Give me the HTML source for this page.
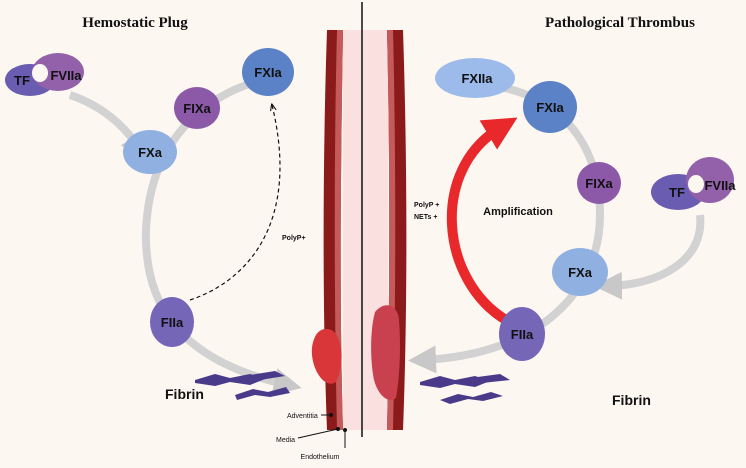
<!DOCTYPE html>
<html><head><meta charset="utf-8"><style>
html,body{margin:0;padding:0;background:#fdf7f1;}
svg{display:block;}
text{font-family:"Liberation Sans",sans-serif;font-weight:bold;fill:#111;}
text.n{font-weight:normal;}
.t{font-family:"Liberation Serif",serif;font-size:15px;}
.p{font-size:13px;text-anchor:middle;}
</style></head><body>
<svg width="746" height="468" viewBox="0 0 746 468" xmlns="http://www.w3.org/2000/svg">
<defs>
<marker id="ag" viewBox="0 0 10 10" refX="5" refY="5" markerWidth="3.5" markerHeight="3.5" orient="auto"><path d="M0,0L10,5L0,10z" fill="#c8c8c8"/></marker>
<marker id="ak" viewBox="0 0 10 10" refX="8" refY="5" markerWidth="6" markerHeight="6" orient="auto"><path d="M0,1L10,5L0,9" fill="none" stroke="#111" stroke-width="1.5"/></marker>
<marker id="ar" viewBox="0 0 10 10" refX="4" refY="5" markerWidth="3.4" markerHeight="3.4" orient="auto"><path d="M0,0L10,5L0,10z" fill="#e8282b"/></marker>
</defs>
<rect width="746" height="468" fill="#fdf7f1"/>
<text x="135" y="27" class="t" text-anchor="middle">Hemostatic Plug</text>
<text x="620" y="27" class="t" text-anchor="middle">Pathological Thrombus</text>

<!-- vessels -->
<rect x="343" y="30" width="19" height="400" fill="#fbe0e0"/>
<rect x="362" y="30" width="26" height="400" fill="#fbe0e0"/>
<path d="M327,30 L343,30 C341,150 339,300 343,430 L327,430 C322,300 323,150 327,30z" fill="#8b1a1a"/>
<path d="M337,30 L343,30 C341,150 339,300 343,430 L337,430 C334,300 334,150 337,30z" fill="#c45a5a"/>
<path d="M387,30 L403,30 C407,150 408,300 403,430 L387,430 C390,300 390,150 387,30z" fill="#8b1a1a"/>
<path d="M387,30 L393,30 C396,150 396,300 393,430 L387,430 C390,300 390,150 387,30z" fill="#c45a5a"/>
<line x1="362" y1="2" x2="362" y2="437" stroke="#111" stroke-width="1.5"/>
<!-- clots -->
<path d="M316,335 C322,325 335,328 338,338 C344,350 342,370 336,382 C328,388 318,378 314,365 C310,352 312,342 316,335z" fill="#d9363a"/>
<path d="M375,312 C385,300 398,305 399,320 C401,345 400,375 396,398 C388,404 378,395 374,380 C370,360 370,330 375,312z" fill="#c9414f"/>

<!-- left arcs -->
<path d="M262,80 C205,95 150,140 146,230 C144,300 175,360 288,385" fill="none" stroke="#d2d2d2" stroke-width="8" marker-end="url(#ag)"/>
<path d="M70,95 C100,105 125,125 140,150" fill="none" stroke="#d2d2d2" stroke-width="8" marker-end="url(#ag)"/>
<path d="M190,300 C250,280 300,220 272,105" fill="none" stroke="#111" stroke-width="1.2" stroke-dasharray="4,3" marker-end="url(#ak)"/>
<text x="282" y="240" font-size="7">PolyP+</text>

<!-- right arcs -->
<path d="M485,85 C545,90 600,130 600,215 C600,290 540,355 422,360" fill="none" stroke="#d2d2d2" stroke-width="8" marker-end="url(#ag)"/>
<path d="M700,215 C705,260 660,285 608,286" fill="none" stroke="#d2d2d2" stroke-width="8" marker-end="url(#ag)"/>
<path d="M506,320 C440,280 430,170 500,128" fill="none" stroke="#e8282b" stroke-width="10" marker-end="url(#ar)"/>
<text x="518" y="215" font-size="11" text-anchor="middle">Amplification</text>
<text x="414" y="207" font-size="7">PolyP +</text>
<text x="414" y="219" font-size="7">NETs +</text>

<!-- proteins -->
<g>
<ellipse cx="30" cy="80" rx="25" ry="16" fill="#6a5cb0"/>
<ellipse cx="58" cy="72" rx="26" ry="19" fill="#9361aa"/>
<ellipse cx="40" cy="73" rx="8" ry="9" fill="#fdf7f1"/>
<text x="22" y="85" class="p">TF</text>
<text x="66" y="80" class="p">FVIIa</text>
</g>
<ellipse cx="150" cy="152" rx="27" ry="22" fill="#91b0e2"/><text x="150" y="157" class="p">FXa</text>
<ellipse cx="197" cy="108" rx="23" ry="21" fill="#8c58a8"/><text x="197" y="113" class="p">FIXa</text>
<ellipse cx="268" cy="72" rx="26" ry="24" fill="#5b82c6"/><text x="268" y="77" class="p">FXIa</text>
<ellipse cx="172" cy="322" rx="22" ry="25" fill="#7566b8"/><text x="172" y="327" class="p">FIIa</text>

<ellipse cx="475" cy="78" rx="40" ry="20" fill="#9cbbea"/><text x="477" y="83" class="p">FXIIa</text>
<ellipse cx="550" cy="107" rx="27" ry="26" fill="#5b82c6"/><text x="550" y="112" class="p">FXIa</text>
<ellipse cx="599" cy="183" rx="22" ry="21" fill="#8c58a8"/><text x="599" y="188" class="p">FIXa</text>
<g>
<ellipse cx="678" cy="192" rx="27" ry="18" fill="#6a5cb0"/>
<ellipse cx="710" cy="180" rx="24" ry="23" fill="#9361aa"/>
<ellipse cx="696" cy="184" rx="8" ry="9" fill="#fdf7f1"/>
<text x="677" y="197" class="p">TF</text>
<text x="720" y="190" class="p">FVIIa</text>
</g>
<ellipse cx="580" cy="272" rx="28" ry="24" fill="#91b0e2"/><text x="580" y="277" class="p">FXa</text>
<ellipse cx="522" cy="334" rx="23" ry="27" fill="#7566b8"/><text x="522" y="339" class="p">FIIa</text>

<!-- fibrin -->
<g fill="#4a3a8a">
<path d="M195,380 l20,-6 l15,4 l20,-4 l15,5 l-15,6 l-20,-3 l-15,4 l-20,-3z"/>
<path d="M235,395 l18,-6 l15,3 l18,-5 l4,6 l-20,4 l-15,-2 l-18,5z"/>
<path d="M250,375 l25,-4 l10,5 l-25,4z"/>
<path d="M420,382 l20,-6 l15,4 l20,-4 l15,5 l-15,6 l-20,-3 l-15,4 l-20,-3z"/>
<path d="M440,400 l18,-6 l15,3 l18,-5 l12,4 l-20,5 l-15,-2 l-18,5z"/>
<path d="M470,378 l30,-4 l10,6 l-28,3z"/>
</g>
<text x="165" y="399" font-size="14">Fibrin</text>
<text x="612" y="405" font-size="14">Fibrin</text>

<!-- layer labels -->
<text x="287" y="418" font-size="7" class="n">Adventitia</text>
<line x1="321" y1="415" x2="331" y2="415" stroke="#111"/><circle cx="331" cy="415" r="2" fill="#111"/>
<text x="276" y="442" font-size="7" class="n">Media</text>
<line x1="298" y1="438" x2="338" y2="429" stroke="#111"/><circle cx="338" cy="429" r="2" fill="#111"/>
<line x1="345" y1="430" x2="345" y2="448" stroke="#111"/><circle cx="345" cy="430" r="2" fill="#111"/>
<text x="320" y="459" font-size="7" class="n" text-anchor="middle">Endothelium</text>
</svg>
</body></html>
